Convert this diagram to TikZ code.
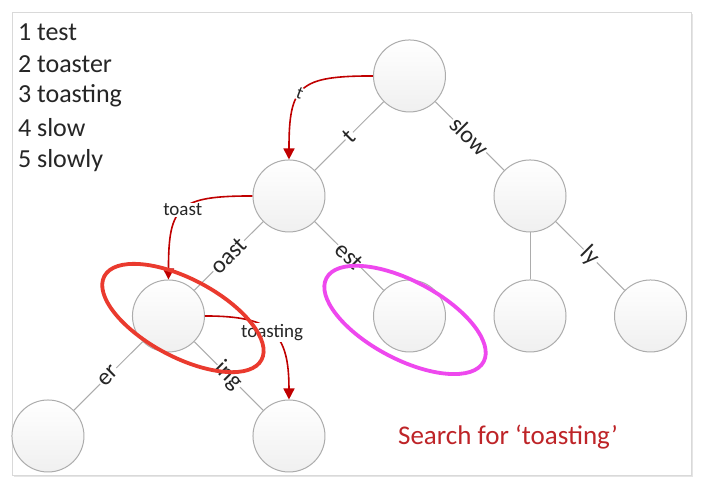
\documentclass[tikz,border=0pt]{standalone}
\usepackage{fontspec}
\setmainfont{Carlito}
\usetikzlibrary{arrows.meta}
\usetikzlibrary{shapes.geometric}
\usetikzlibrary{shadows}

\definecolor{hopred}{RGB}{192,0,0}
\definecolor{ringred}{RGB}{234,58,46}
\definecolor{ringpink}{RGB}{238,72,238}
\definecolor{searchred}{RGB}{190,36,40}

\tikzset{
  trie node/.style={circle, draw=gray!65, line width=1pt, minimum size=72pt,
    inner sep=0pt, top color=white, bottom color=gray!12},
  trie edge/.style={draw=gray!65, line width=1pt},
  edge label/.style={sloped, fill=white, inner sep=1pt, text=black!85,
    font=\fontsize{24}{24}\selectfont},
  hop/.style={draw=hopred, line width=1.6pt, -{Triangle[length=11pt,width=11pt]}},
  hop label/.style={fill=white, inner sep=1pt, text=black!85,
    font=\fontsize{19}{19}\selectfont},
  ring/.style={ellipse, line width=3.8pt, minimum width=178pt,
    minimum height=78pt, rotate=-28, inner sep=0pt},
}

\begin{document}
\begin{tikzpicture}[x=120.5pt, y=120pt]

\fill[white] (-0.398,-0.392) rectangle (5.419,3.633);
\useasboundingbox (-0.398,-0.392) rectangle (5.419,3.633);

% frame
\draw[draw=gray!30, fill=white,
  drop shadow={shadow xshift=2pt, shadow yshift=-2pt, opacity=.2, fill=gray}]
  (-0.299,-0.325) rectangle (5.336,3.533);

% word list
\foreach \w [count=\i] in {test,toaster,toasting,slow,slowly}
  \node [anchor=west, inner sep=0pt, text=black!85,
    font=\fontsize{26}{26}\selectfont]
    (word-\i) at (-0.25,3.634-0.267*\i) {\i\ \w};

% trie
\node [trie node] (root) at (3,3) {};
\node [trie node] (t) at (2,2) {};
\node [trie node] (slow) at (4,2) {};
\node [trie node] (toast) at (1,1) {};
\node [trie node] (test) at (3,1) {};
\node [trie node] (slow-end) at (4,1) {};
\node [trie node] (slowly) at (5,1) {};
\node [trie node] (toaster) at (0,0) {};
\node [trie node] (toasting) at (2,0) {};

\foreach \a/\b/\l in {root/t/t, root/slow/slow, t/toast/oast, t/test/est,
                      toast/toaster/er, toast/toasting/ing, slow/slowly/ly}
  \draw [trie edge] (\a) -- node [edge label] (label-\b) {\l} (\b);

\draw [trie edge] (slow) -- (slow-end);

% search path
\draw [hop] (root.west) to [out=180, in=90, looseness=1.6]
  node [pos=.55, rotate=-20, fill=white, inner sep=0.3pt, text=black!85,
    font=\fontsize{18}{18}\selectfont] (hop-t) {t} (t.north);

\draw [hop] (t.west) to [out=180, in=90, looseness=1.6]
  node [hop label] (hop-toast) {toast} (toast.north);

\draw [hop] (toast.east) to [out=0, in=90, looseness=1.45]
  node [hop label] (hop-toasting) {toasting} (toasting.north);

\node [ring, draw=ringred] (ring-toast) at (1.12,0.983) {};
\node [ring, draw=ringpink] (ring-test) at (2.963,0.967) {};

\node [text=searchred, font=\fontsize{27}{27}\selectfont]
  (search) at (3.817,-0.008) {Search for ‘toasting’};

\end{tikzpicture}
\end{document}
